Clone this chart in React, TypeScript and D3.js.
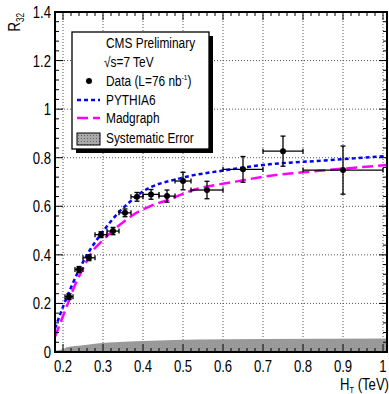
import React from 'react';
import { scaleLinear, line, area, curveMonotoneX, range } from 'd3';

// measured R32 points
const ht = [0.215, 0.24, 0.265, 0.295, 0.325, 0.355, 0.385, 0.42, 0.46, 0.5, 0.56, 0.65, 0.75, 0.9];
const htLo = [0.205, 0.23, 0.25, 0.28, 0.31, 0.34, 0.37, 0.4, 0.44, 0.48, 0.52, 0.6, 0.7, 0.8];
const htHi = [0.225, 0.25, 0.28, 0.31, 0.34, 0.37, 0.4, 0.44, 0.48, 0.52, 0.6, 0.7, 0.8, 1.0];
const r32 = [0.228, 0.34, 0.388, 0.483, 0.498, 0.573, 0.639, 0.649, 0.642, 0.704, 0.667, 0.752, 0.827, 0.749];
const r32Err = [0.012, 0.012, 0.012, 0.012, 0.015, 0.016, 0.018, 0.02, 0.025, 0.036, 0.036, 0.053, 0.062, 0.099];

// MC predictions
const pythiaX = [0.18, 0.2, 0.22, 0.24, 0.26, 0.284, 0.309, 0.338, 0.363, 0.3925, 0.4925, 0.6, 0.7425, 0.8, 1.01];
const pythiaY = [0.097, 0.186, 0.266, 0.338, 0.4, 0.461, 0.516, 0.573, 0.612, 0.653, 0.715, 0.747, 0.777, 0.783, 0.807];
const madX = [0.18, 0.209, 0.23, 0.25, 0.27, 0.3, 0.334, 0.375, 0.42, 0.46, 0.526, 0.626, 0.7425, 0.8, 1.01];
const madY = [0.063, 0.186, 0.276, 0.344, 0.406, 0.461, 0.513, 0.564, 0.602, 0.625, 0.667, 0.7, 0.731, 0.74, 0.77];

// systematic error band
const sysX = [0.18, 0.2, 0.21, 0.25, 0.29, 0.34, 0.42, 0.54, 0.7, 1.01];
const sysErr = [0.004, 0.012, 0.02, 0.028, 0.036, 0.041, 0.046, 0.051, 0.054, 0.056];

const xTicks = [0.2, 0.3, 0.4, 0.5, 0.6, 0.7, 0.8, 0.9, 1];
const yTicks = [0, 0.2, 0.4, 0.6, 0.8, 1, 1.2, 1.4];

const font = '"Liberation Sans", Arial, sans-serif';
const SQ = 0.82; // narrow font look

function T(props: { x: number; y: number; size: number; anchor?: string; rot?: number; children: any }) {
  const { x, y, size, anchor, rot, children } = props;
  return (
    <text
      transform={`translate(${x},${y}) ${rot ? `rotate(${rot})` : ''} scale(${SQ},1)`}
      fontSize={size}
      textAnchor={anchor || 'start'}
      fill="#000"
    >
      {children}
    </text>
  );
}

export default function App() {
  const W = 389, H = 394;
  const L = 55, R = 387, Tp = 12, B = 352;
  const x = scaleLinear().domain([0.18, 1.01]).range([L, R]);
  const y = scaleLinear().domain([0, 1.4]).range([B, Tp]);

  const curve = line<number>().curve(curveMonotoneX);
  const pyPath = curve(pythiaX.map((v, i) => [x(v), y(pythiaY[i])]) as any);
  const mgPath = curve(madX.map((v, i) => [x(v), y(madY[i])]) as any);
  const band = area<number>()
    .x((d, i) => x(sysX[i]))
    .y0(() => y(0))
    .y1((d) => y(d))
    .curve(curveMonotoneX)(sysErr);

  const xMinor = range(0, 42).map((i) => 0.18 + i * 0.02).filter((v) => v <= 1.01);
  const yMinor = range(0, 36).map((i) => i * 0.04).filter((v) => v <= 1.4001);

  const fmt = (v: number) => (v === 0 || v === 1 ? String(v) : v.toFixed(1));

  return (
    <svg width={W} height={H} style={{ position: 'absolute', left: 0, top: 0 }} fontFamily={font}>
      <rect width={W} height={H} fill="#fff" />
      <defs>
        <clipPath id="plot">
          <rect x={L} y={Tp} width={R - L} height={B - Tp} />
        </clipPath>
        <pattern id="hatch" width="3" height="3" patternUnits="userSpaceOnUse">
          <rect width="3" height="3" fill="#aaa" />
          <rect width="1" height="1" fill="#666" />
        </pattern>
      </defs>

      {/* grid */}
      {xTicks.map((t) => (
        <line key={'gx' + t} x1={x(t)} x2={x(t)} y1={Tp} y2={B} stroke="#555" strokeWidth={1} strokeDasharray="1 2" />
      ))}
      {yTicks.filter((t) => t > 0 && t < 1.4).map((t) => (
        <line key={'gy' + t} x1={L} x2={R} y1={y(t)} y2={y(t)} stroke="#555" strokeWidth={1} strokeDasharray="1 2" />
      ))}

      <g clipPath="url(#plot)">
        <path d={band || ''} fill="#999" />
        <path d={pyPath || ''} fill="none" stroke="#0000ff" strokeWidth={2.5} strokeDasharray="4 3" />
        <path d={mgPath || ''} fill="none" stroke="#ff00ff" strokeWidth={2.5} strokeDasharray="11 5" />
      </g>

      {/* data */}
      {ht.map((v, i) => {
        const cx = x(v), cy = y(r32[i]);
        const y1 = y(r32[i] + r32Err[i]), y2 = y(r32[i] - r32Err[i]);
        const x1 = x(htLo[i]), x2 = x(htHi[i]);
        return (
          <g key={'d' + i} stroke="#000" strokeWidth={1.3}>
            <line x1={x1} x2={x2} y1={cy} y2={cy} />
            <line x1={x1} x2={x1} y1={cy - 2.5} y2={cy + 2.5} />
            <line x1={x2} x2={x2} y1={cy - 2.5} y2={cy + 2.5} />
            <line x1={cx} x2={cx} y1={y1} y2={y2} />
            <line x1={cx - 2.5} x2={cx + 2.5} y1={y1} y2={y1} />
            <line x1={cx - 2.5} x2={cx + 2.5} y1={y2} y2={y2} />
            <circle cx={cx} cy={cy} r={3} fill="#000" stroke="none" />
          </g>
        );
      })}

      {/* ticks */}
      <g stroke="#000" strokeWidth={1}>
        {xMinor.map((t, i) => {
          const major = xTicks.some((m) => Math.abs(m - t) < 1e-6);
          const len = major ? 8 : 4;
          return (
            <g key={'tx' + i}>
              <line x1={x(t)} x2={x(t)} y1={B} y2={B - len} />
              <line x1={x(t)} x2={x(t)} y1={Tp} y2={Tp + len} />
            </g>
          );
        })}
        {yMinor.map((t, i) => {
          const major = yTicks.some((m) => Math.abs(m - t) < 1e-6);
          const len = major ? 8 : 4;
          return (
            <g key={'ty' + i}>
              <line x1={L} x2={L + len} y1={y(t)} y2={y(t)} />
              <line x1={R} x2={R - len} y1={y(t)} y2={y(t)} />
            </g>
          );
        })}
      </g>

      {/* frame */}
      <rect x={L} y={Tp} width={R - L} height={B - Tp} fill="none" stroke="#000" strokeWidth={2} />

      {/* tick labels */}
      {xTicks.map((t) => (
        <T key={'lx' + t} x={x(t)} y={372} size={16} anchor="middle">
          {fmt(t)}
        </T>
      ))}
      {yTicks.map((t) => (
        <T key={'ly' + t} x={51} y={y(t) + 6} size={16} anchor="end">
          {fmt(t)}
        </T>
      ))}

      {/* axis titles */}
      <T x={389} y={390} size={16} anchor="end">
        H<tspan fontSize={9} dy={3}>T</tspan>
        <tspan dy={-3}> (TeV)</tspan>
      </T>
      <T x={20} y={13} size={16} anchor="end" rot={-90}>
        R<tspan fontSize={10} dy={4}>32</tspan>
      </T>

      {/* legend */}
      <rect x={76} y={36} width={137} height={117} fill="#000" />
      <rect x={72} y={32} width={137} height={117} fill="#fff" stroke="#000" strokeWidth={1.3} />
      <T x={106} y={48} size={14.5}>CMS Preliminary</T>
      <T x={104} y={67} size={14.5}>√s=7 TeV</T>
      <T x={106} y={86} size={14.5}>
        Data (L=76 nb<tspan fontSize={8} dy={-6}>-1</tspan>
        <tspan dy={6}>)</tspan>
      </T>
      <T x={106} y={105} size={14.5}>PYTHIA6</T>
      <T x={106} y={123} size={14.5}>Madgraph</T>
      <T x={106} y={143} size={14.5}>Systematic Error</T>
      <circle cx={89} cy={81} r={3} fill="#000" />
      <line x1={77} x2={100} y1={100} y2={100} stroke="#0000ff" strokeWidth={2.5} strokeDasharray="4 3" />
      <line x1={77} x2={100} y1={118} y2={118} stroke="#ff00ff" strokeWidth={2.5} strokeDasharray="11 5" />
      <rect x={77} y={133} width={23} height={12} fill="url(#hatch)" stroke="#000" strokeWidth={1} />
    </svg>
  );
}
